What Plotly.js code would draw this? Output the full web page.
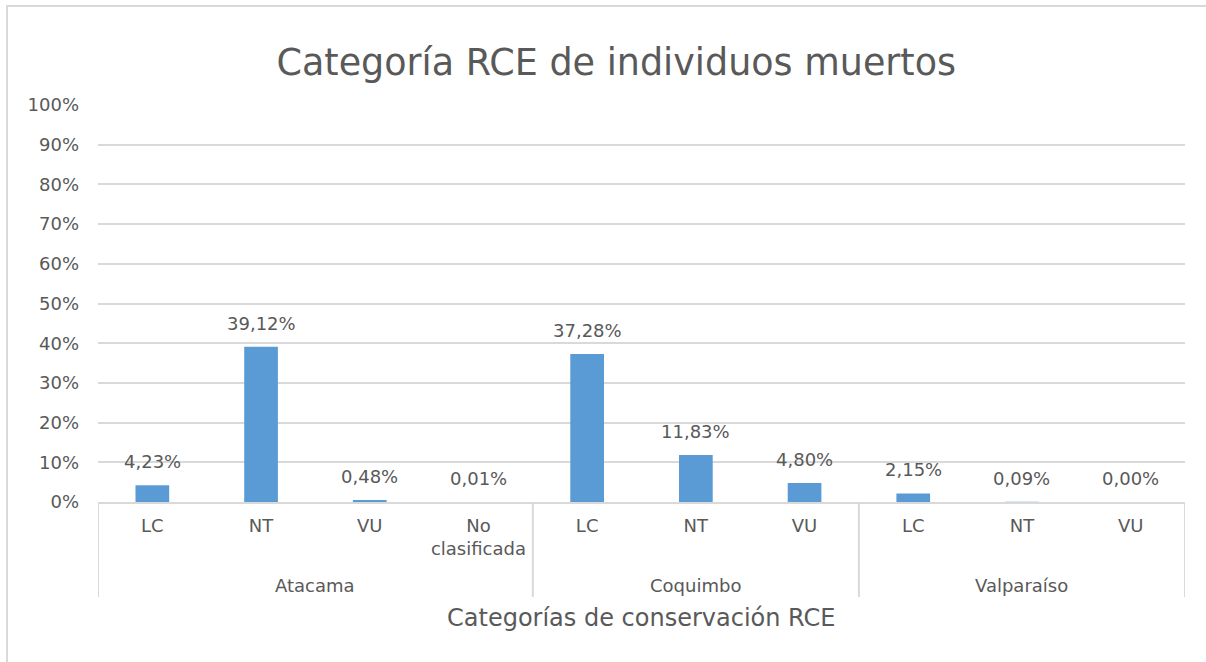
<!DOCTYPE html>
<html><head><meta charset="utf-8">
<script src="https://cdn.plot.ly/plotly-3.0.1.min.js"></script>
<style>
html,body{margin:0;padding:0;background:#fff;}
#frame{position:absolute;left:6px;top:5px;width:1220px;height:680px;border:2px solid #d9d9d9;box-sizing:border-box;}
#chart{position:absolute;left:0;top:0;width:1206px;height:662px;}
</style></head>
<body>
<div id="frame"></div>
<div id="chart"></div>
<script>
var regions = ["Atacama","Atacama","Atacama","Atacama","Coquimbo","Coquimbo","Coquimbo","Valparaíso","Valparaíso","Valparaíso"];
var categories = ["LC","NT","VU","No<br>clasificada","LC","NT","VU","LC","NT","VU"];
var values = [4.23, 39.12, 0.48, 0.01, 37.28, 11.83, 4.80, 2.15, 0.09, 0.00];
var yTicks = [0,10,20,30,40,50,60,70,80,90,100];

var FONT = "'DejaVu Sans', sans-serif";
var GREY = "#595959";
var LINE = "#d9d9d9";

var idx = categories.map(function(_, i){ return i; });
function fmt(v){ return v.toFixed(2).replace(".", ",") + "%"; }

var trace = {
  type: "bar",
  x: idx,
  y: values,
  width: 0.31,
  marker: {color: "#5B9BD5"},
  hoverinfo: "skip"
};

// group labels and dividers derived from regions
var groups = [];
regions.forEach(function(r, i){
  if (!groups.length || groups[groups.length-1].name !== r) groups.push({name: r, start: i, end: i});
  else groups[groups.length-1].end = i;
});

var plotH = 662 - 105 - 160;
var annotations = values.map(function(v, i){
  return {x: idx[i], y: v, xref: "x", yref: "y", text: fmt(v), showarrow: false,
          yanchor: "bottom", yshift: 11, font: {family: FONT, size: 18, color: GREY}};
});
groups.forEach(function(g){
  annotations.push({x: (g.start + g.end)/2, y: 0, xref: "x", yref: "paper", text: g.name,
    showarrow: false, yanchor: "middle", yshift: -83, font: {family: FONT, size: 18, color: GREY}});
});
annotations.push({x: 0.5, y: 0, xref: "paper", yref: "paper", text: "Categorías de conservación RCE",
  showarrow: false, yanchor: "middle", yshift: -116, font: {family: FONT, size: 24, color: GREY}});

var shapes = [];
var bounds = [groups[0].start - 0.5].concat(groups.map(function(g){ return g.end + 0.5; }));
bounds.forEach(function(b){
  shapes.push({type: "line", xref: "x", yref: "paper", x0: b, x1: b, y0: 0, y1: -95/plotH,
               line: {color: LINE, width: 2}});
});

var layout = {
  width: 1206, height: 662,
  paper_bgcolor: "rgba(0,0,0,0)",
  plot_bgcolor: "rgba(0,0,0,0)",
  margin: {l: 98, r: 21, t: 105, b: 160},
  showlegend: false,
  font: {family: FONT, color: GREY},
  title: {
    text: "Categoría RCE de individuos muertos",
    font: {family: FONT, size: 36.5, color: GREY},
    x: 0.511, xref: "container", xanchor: "center",
    y: 0.906, yref: "container", yanchor: "middle"
  },
  xaxis: {
    type: "linear",
    range: [-0.5, categories.length - 0.5],
    tickvals: idx,
    ticktext: categories,
    tickfont: {family: FONT, size: 18, color: GREY},
    showgrid: false, zeroline: false,
    showline: true, linecolor: LINE, linewidth: 2,
    ticks: "",
    ticklabelstandoff: 6
  },
  yaxis: {
    range: [0, 100],
    tickvals: yTicks,
    ticktext: yTicks.map(function(v){return v + "%";}),
    tickfont: {family: FONT, size: 18, color: GREY},
    showgrid: true, gridcolor: LINE, gridwidth: 2,
    zeroline: false, showline: false, ticks: "",
    ticklabelstandoff: 18
  },
  annotations: annotations,
  shapes: shapes
};

Plotly.newPlot("chart", [trace], layout, {displayModeBar: false, staticPlot: true});
</script>
</body></html>
